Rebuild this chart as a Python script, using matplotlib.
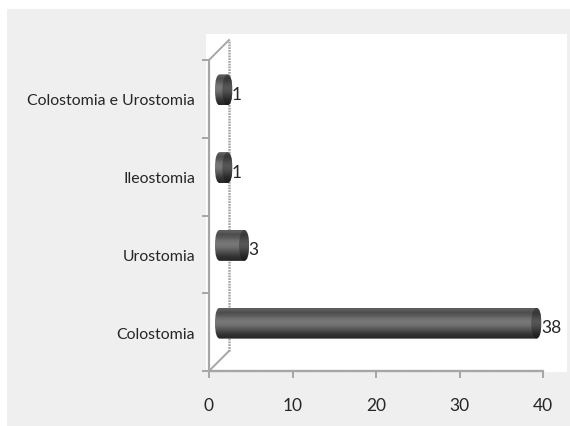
import matplotlib
matplotlib.use("Agg")
import matplotlib.pyplot as plt
import numpy as np
from matplotlib.path import Path
from matplotlib.patches import PathPatch, Ellipse, Rectangle

categories = ["Colostomia", "Urostomia", "Ileostomia", "Colostomia e Urostomia"]
values = [38, 3, 1, 1]
x_ticks = [0, 10, 20, 30, 40]

W, H = 570, 427
plt.rcParams["font.family"] = ["Lato", "DejaVu Sans"]

fig = plt.figure(figsize=(W / 100, H / 100), dpi=100, facecolor="white")

# grey panel and white plot area behind the axes
fig.add_artist(Rectangle((7 / W, 0), 563 / W, 417 / H, transform=fig.transFigure, fc="#efefef", ec="none", zorder=-2))
fig.add_artist(Rectangle((206 / W, 1 - 373 / H), 361 / W, 338 / H, transform=fig.transFigure, fc="white", ec="none", zorder=-1))

ax = fig.add_axes([209 / W, 1 - 372 / H, 334 / W, 311 / H])
ax.patch.set_alpha(0)
ax.set_xlim(0, 40)
ax.set_ylim(-0.5, 3.5)

px = 40 / 334          # data units per pixel, x
py = 4 / 311           # same for y
dx, dy = 20 * px, 20 * py   # depth of the fake 3d box
grid_col = "#a6a6a6"
dots = (0, (0.7, 0.4))

# back wall and floor edges
ax.plot([dx, dx], [-0.5 + dy, 3.5 + dy], color=grid_col, lw=1.8, ls=dots, clip_on=False)
ax.plot([0, dx], [3.5, 3.5 + dy], color=grid_col, lw=1.4, clip_on=False)
ax.plot([0, dx], [-0.5, -0.5 + dy], color=grid_col, lw=1.4, clip_on=False)

for s in ["top", "right"]:
    ax.spines[s].set_visible(False)
ax.spines["left"].set_color(grid_col)
ax.spines["left"].set_linewidth(1.6)
ax.spines["bottom"].set_color(grid_col)
ax.spines["bottom"].set_linewidth(1.6)
ax.spines["bottom"].set_linestyle(dots)

ax.set_xticks(x_ticks)
ax.set_yticks(np.arange(-0.5, 4, 1))
ax.set_yticklabels([])
ax.set_yticks(range(len(categories)), minor=True)
ax.set_yticklabels(categories, minor=True)
ax.tick_params(axis="y", which="minor", length=0, pad=10, labelsize=11.4, labelcolor="#262626")
ax.tick_params(axis="y", which="major", length=5, color=grid_col, width=1.4)
ax.tick_params(axis="x", length=5, color=grid_col, width=1.4, pad=14, labelsize=12.5, labelcolor="#262626")

# gradient used for all cylinders, dark edges and lighter middle
grad = np.array([0.36, 0.30, 0.36, 0.44, 0.47, 0.44, 0.36, 0.28, 0.20, 0.16])[:, None]

start = 6 * px
half_h = 15.5 * py
cap = 5 * px
lift = 9 * py          # bars sit a bit up and back from the front edge
for i, v in enumerate(values):
    end = 10 * px + v + 5 * px
    yc = i + lift
    y0, y1 = yc - half_h, yc + half_h
    verts = [(start + cap, y1), (end - cap, y1), (end, y1), (end, yc), (end, y0), (end - cap, y0),
             (start + cap, y0), (start, y0), (start, yc), (start, y1), (start + cap, y1), (start + cap, y1)]
    codes = [Path.MOVETO, Path.LINETO, Path.CURVE3, Path.CURVE3, Path.CURVE3, Path.CURVE3,
             Path.LINETO, Path.CURVE3, Path.CURVE3, Path.CURVE3, Path.CURVE3, Path.CLOSEPOLY]
    body = PathPatch(Path(verts, codes), fc="none", ec="none", transform=ax.transData)
    ax.add_patch(body)
    im = ax.imshow(grad, extent=[start, end, y0, y1], aspect="auto", cmap="gray",
                   vmin=0, vmax=1, interpolation="bilinear", zorder=3)
    im.set_clip_path(body)
    # end cap, same shading but darker
    ell = Ellipse((end - cap, yc), 2 * cap, 2 * half_h * 0.98, fc="none", ec="none", transform=ax.transData)
    ax.add_patch(ell)
    im2 = ax.imshow(grad * 0.72, extent=[end - 2 * cap, end, y0, y1], aspect="auto", cmap="gray",
                    vmin=0, vmax=1, interpolation="bilinear", zorder=4)
    im2.set_clip_path(ell)
    ax.text(end - 0.05, i + 5 * py, str(v), va="center", ha="left", fontsize=12.5, color="#262626", zorder=5)

ax.set_xlim(0, 40)
ax.set_ylim(-0.5, 3.5)

fig.savefig("out.png", dpi=100, facecolor="white")
